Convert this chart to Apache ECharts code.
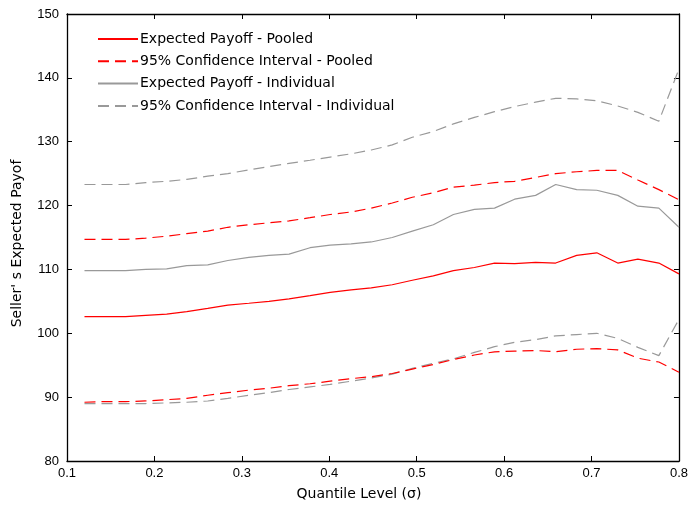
<!DOCTYPE html>
<html>
<head>
<meta charset="utf-8">
<script src="https://cdn.jsdelivr.net/npm/echarts@6/dist/echarts.min.js"></script>
<style>
html,body{margin:0;padding:0;background:#fff;}
#chart{width:691px;height:507px;}
</style>
</head>
<body>
<div id="chart"></div>
<script>
const quantiles = [0.120,0.143,0.167,0.190,0.214,0.237,0.261,0.284,0.308,0.331,0.354,0.378,0.401,0.425,0.448,0.472,0.495,0.519,0.542,0.566,0.589,0.612,0.636,0.659,0.683,0.706,0.730,0.753,0.777,0.800];
const pooledExpected = [102.6,102.6,102.6,102.8,103.0,103.4,103.9,104.4,104.7,105.0,105.4,105.9,106.4,106.8,107.1,107.6,108.3,109.0,109.8,110.3,111.0,110.9,111.1,111.0,112.2,112.6,111.0,111.6,111.0,109.3];
const pooledUpper = [114.7,114.7,114.7,114.9,115.2,115.6,116.0,116.6,117.0,117.3,117.6,118.1,118.6,119.0,119.6,120.4,121.3,122.0,122.9,123.2,123.6,123.8,124.4,125.0,125.3,125.5,125.5,124.0,122.5,120.9];
const pooledLower = [89.2,89.3,89.3,89.4,89.6,89.8,90.3,90.7,91.1,91.4,91.8,92.1,92.5,92.9,93.2,93.7,94.4,95.1,95.9,96.6,97.1,97.2,97.3,97.1,97.5,97.6,97.4,96.1,95.5,93.9];
const indivExpected = [109.8,109.8,109.8,110.0,110.1,110.6,110.7,111.4,111.9,112.2,112.4,113.4,113.8,114.0,114.3,115.0,116.0,117.0,118.6,119.4,119.6,121.0,121.6,123.3,122.5,122.4,121.6,119.9,119.6,116.6];
const indivUpper = [123.3,123.3,123.3,123.6,123.8,124.1,124.6,125.0,125.6,126.1,126.6,127.1,127.6,128.1,128.7,129.5,130.7,131.6,132.8,133.8,134.7,135.5,136.2,136.8,136.7,136.4,135.6,134.6,133.2,141.4];
const indivLower = [89.0,89.0,89.0,89.0,89.1,89.2,89.4,89.8,90.3,90.7,91.2,91.6,92.0,92.5,93.0,93.6,94.5,95.3,96.0,97.0,97.9,98.6,99.0,99.6,99.8,100.0,99.2,97.8,96.5,102.2];
const xTicks = [0.1,0.2,0.3,0.4,0.5,0.6,0.7,0.8];
const yTicks = [80,90,100,110,120,130,140,150];

const RED = '#ff0000', GRAY = '#999999';
const FONT = '"Liberation Sans", Arial, sans-serif';
const WIDE = '"DejaVu Sans", sans-serif';
const pairs = ys => quantiles.map((x,i)=>[x, ys[i]]);

const chart = echarts.init(document.getElementById('chart'), null, {renderer:'canvas'});
const axisCommon = {
  axisLine:{show:true, onZero:false, lineStyle:{color:'#000', width:1.3}},
  axisTick:{show:true, inside:true, length:5, lineStyle:{color:'#000', width:1}},
  splitLine:{show:false}
};
const mk = (name, data, color, dashed, z) => ({
  name, type:'line', data: pairs(data), showSymbol:false, symbol:'none',
  lineStyle:{color, width:1.2, type: dashed ? [11,6] : 'solid'},
  itemStyle:{color}, z, animation:false
});
chart.setOption({
  animation:false,
  backgroundColor:'#fff',
  textStyle:{fontFamily:FONT},
  grid:{left:67, right:9, top:14, bottom:46, containLabel:false},
  legend:{
    orient:'vertical', left:92, top:27, itemWidth:40, itemHeight:10, itemGap:8.3,
    itemStyle:{opacity:0},
    textStyle:{fontFamily:WIDE, fontSize:14, color:'#000', padding:[0,0,0,-3]},
    data:[
      {name:'Expected Payoff - Pooled'},
      {name:'95% Confidence Interval - Pooled'},
      {name:'Expected Payoff - Individual'},
      {name:'95% Confidence Interval - Individual'}
    ]
  },
  xAxis:[
    Object.assign({type:'value', min:0.1, max:0.8, interval:0.1, position:'bottom',
      name:'Quantile Level (σ)', nameLocation:'middle', nameGap:26,
      nameTextStyle:{fontFamily:WIDE, fontSize:14, color:'#000', padding:[0,28,0,0]},
      axisLabel:{color:'#000', fontSize:13, fontFamily:FONT, margin:6,
        formatter: v => { const t = xTicks.find(k=>Math.abs(k-v)<1e-6); return t===undefined? '' : String(t); }}
    }, axisCommon),
    Object.assign({type:'value', min:0.1, max:0.8, interval:0.1, position:'top', axisLabel:{show:false}}, axisCommon)
  ],
  yAxis:[
    Object.assign({type:'value', min:80, max:150, interval:10, position:'left',
      name:"Seller' s Expected Payof", nameLocation:'middle', nameGap:43, nameRotate:90,
      nameTextStyle:{fontFamily:WIDE, fontSize:14, color:'#000', padding:[0,12,0,0]},
      axisLabel:{color:'#000', fontSize:13, fontFamily:FONT, margin:8,
        formatter: v => { const t = yTicks.find(k=>Math.abs(k-v)<1e-6); return t===undefined? '' : String(t); }}
    }, axisCommon),
    Object.assign({type:'value', min:80, max:150, interval:10, position:'right', axisLabel:{show:false}}, axisCommon)
  ],
  series:[
    mk('Expected Payoff - Pooled', pooledExpected, RED, false, 5),
    mk('95% Confidence Interval - Pooled', pooledUpper, RED, true, 5),
    mk('95% Confidence Interval - Pooled', pooledLower, RED, true, 5),
    mk('Expected Payoff - Individual', indivExpected, GRAY, false, 4),
    mk('95% Confidence Interval - Individual', indivUpper, GRAY, true, 4),
    mk('95% Confidence Interval - Individual', indivLower, GRAY, true, 4)
  ]
});
</script>
</body>
</html>
